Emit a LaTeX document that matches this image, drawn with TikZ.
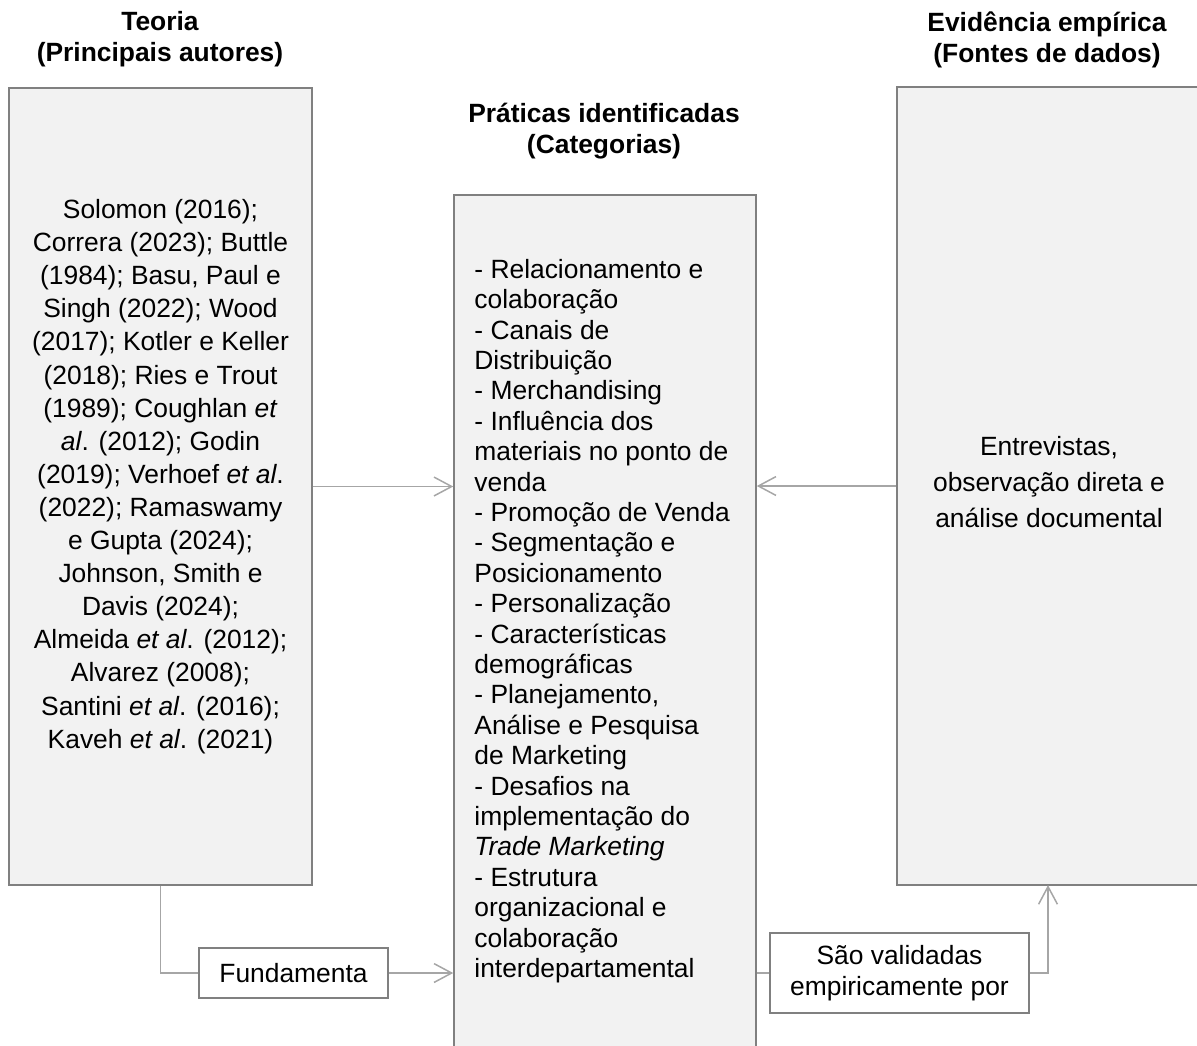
\documentclass[tikz,border=0pt]{standalone}
\usepackage{fontspec}
\setmainfont{Liberation Sans}
\usetikzlibrary{arrows.meta,calc}
\definecolor{boxfill}{HTML}{F2F2F2}
\definecolor{boxline}{HTML}{808080}
\definecolor{arrline}{HTML}{A6A6A6}
\begin{document}
\begin{tikzpicture}[x=0.5pt,y=-0.5pt,
  bigbox/.style={draw=boxline,fill=boxfill,line width=0.75pt,inner sep=0pt},
  lblbox/.style={draw=boxline,fill=white,line width=0.75pt,inner sep=0pt,
    font=\fontsize{13.2}{15.6}\selectfont,align=center},
  bodytext/.style={font=\fontsize{13.2}{#1}\selectfont,inner sep=0pt},
  ttl/.style={font=\fontsize{13.2}{15.5}\selectfont\bfseries,align=center,inner sep=0pt},
  conn/.style={draw=arrline,line width=0.75pt},
  arr/.style={conn,-{Straight Barb[length=8.8pt,width=9.4pt,line width=0.75pt]}}]
\useasboundingbox (0,0) rectangle (1197,1045);
\clip (0,0) rectangle (1197,1045);

% titles
\node[ttl] (t1) at (160,39.5) {Teoria\\(Principais autores)};
\node[ttl] (t2) at (604,131.5) {Práticas identificadas\\(Categorias)};
\node[ttl] (t3) at (1047,40) {Evidência empírica\\(Fontes de dados)};

% big boxes
\node[bigbox,minimum width=151.5pt,minimum height=398.5pt] (teo) at (160.5,486.5) {};
\node[bigbox,minimum width=151pt,minimum height=452.5pt] (mid) at (605,647.5) {};
\node[bigbox,minimum width=156.5pt,minimum height=399pt] (evi) at (1053.5,486) {};

% texts
\node[bodytext=16.55pt,align=center] (teotxt) at (160.5,476.5) {Solomon (2016);\\
Correra (2023); Buttle\\
(1984); Basu, Paul e\\
Singh (2022); Wood\\
(2017); Kotler e Keller\\
(2018); Ries e Trout\\
(1989); Coughlan \textit{et}\\
\textit{al}. (2012); Godin\\
(2019); Verhoef \textit{et al}.\\
(2022); Ramaswamy\\
e Gupta (2024);\\
Johnson, Smith e\\
Davis (2024);\\
Almeida \textit{et al}. (2012);\\
Alvarez (2008);\\
Santini \textit{et al}. (2016);\\
Kaveh \textit{et al}. (2021)};

\node[bodytext=15.2pt,align=left,anchor=west] (midtxt) at (474,621) {- Relacionamento e\\
colaboração\\
- Canais de\\
Distribuição\\
- Merchandising\\
- Influência dos\\
materiais no ponto de\\
venda\\
- Promoção de Venda\\
- Segmentação e\\
Posicionamento\\
- Personalização\\
- Características\\
demográficas\\
- Planejamento,\\
Análise e Pesquisa\\
de Marketing\\
- Desafios na\\
implementação do\\
\textit{Trade Marketing}\\
- Estrutura\\
organizacional e\\
colaboração\\
interdepartamental};

\node[bodytext=17.9pt,align=center] (evitxt) at (1049,482) {Entrevistas,\\observação direta e\\análise documental};

% label boxes
\node[lblbox,minimum width=94.5pt,minimum height=25pt] (fund) at (293.5,973) {Fundamenta};
\node[lblbox,minimum width=129.5pt,minimum height=40pt] (sao) at (899.5,973) {São validadas\\empiricamente por};

\coordinate (up) at (1048,885);

% connectors
\draw[arr] (teo.east) -- (teo.east -| mid.west);
\draw[arr] (evi.west) -- (evi.west -| mid.east);
\draw[conn] (teo.south) |- (fund.west);
\draw[arr] (fund.east) -- (fund.east -| mid.west);
\draw[conn] (sao.west -| mid.east) -- (sao.west);
\draw[arr] (sao.east) -| (up);
\end{tikzpicture}
\end{document}
